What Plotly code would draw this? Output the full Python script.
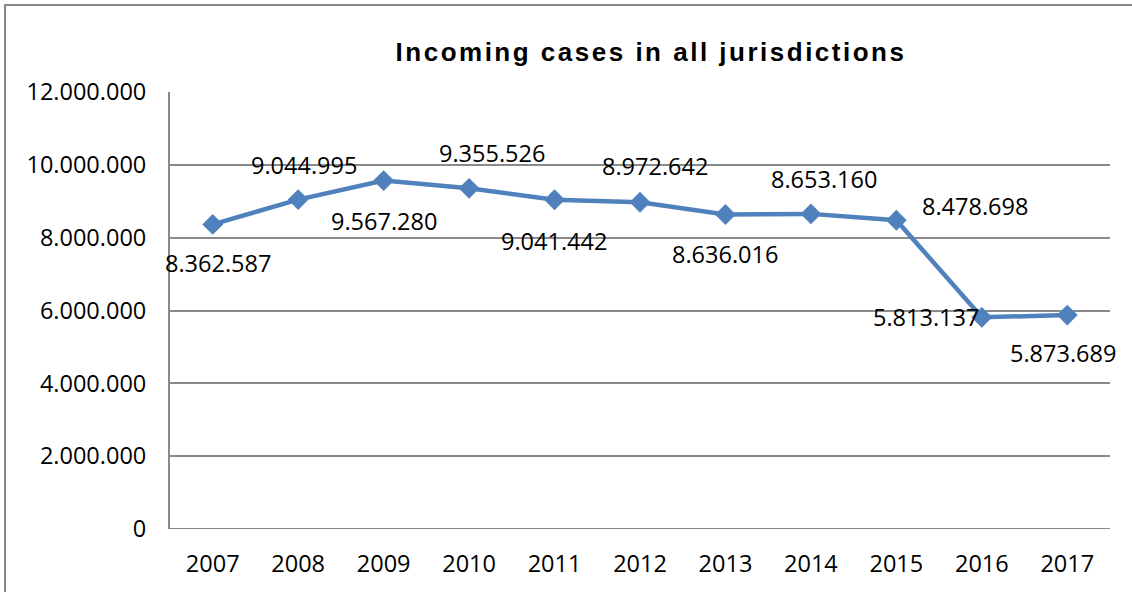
import plotly.graph_objects as go

years = ["2007", "2008", "2009", "2010", "2011", "2012", "2013", "2014", "2015", "2016", "2017"]
cases = [8362587, 9044995, 9567280, 9355526, 9041442, 8972642, 8636016, 8653160, 8478698, 5813137, 5873689]
label_dx = [5, 6, 0, 23, -1, 15, 0, 13, 79, -56, -4]
label_dy = [-39, 35, -40, 35, -41, 36, -39, 35, 14, 0, -38]

FONT = "Open Sans"
FS = 23.5
LINE_COLOR = "#4F81BD"
GRID = "#8a8a8a"

fig = go.Figure()
fig.add_trace(go.Scatter(
    x=years, y=cases, mode="lines+markers",
    line=dict(color=LINE_COLOR, width=4.5),
    marker=dict(symbol="diamond", size=16, color=LINE_COLOR),
    hoverinfo="x+y", showlegend=False,
))

for i, (v, dx, dy) in enumerate(zip(cases, label_dx, label_dy)):
    fig.add_annotation(
        x=i, y=v, xref="x", yref="y", text=f"{v:,}".replace(",", "."), showarrow=False,
        xshift=dx, yshift=dy, font=dict(family=FONT, size=FS, color="black"),
    )

fig.update_layout(
    width=1132, height=592,
    margin=dict(l=170, r=22, t=92, b=63),
    paper_bgcolor="white", plot_bgcolor="white",
    separators=",.",
    font=dict(family=FONT, size=FS, color="black"),
    title=dict(
        text='<b><span style="letter-spacing:2.5px">Incoming cases in all jurisdictions</span></b>',
        x=651 / 1132, xanchor="center", y=1 - 52 / 592, yanchor="middle",
        font=dict(family="Liberation Sans", size=26, color="black"),
    ),
    xaxis=dict(
        type="category", range=[-0.5, 10.5], showgrid=False, showline=False,
        zeroline=False, ticks="", ticklabelstandoff=18,
        tickfont=dict(family=FONT, size=FS, color="black"),
    ),
    yaxis=dict(
        range=[0, 12000000], dtick=2000000, tickformat=",d",
        showgrid=True, gridcolor=GRID, gridwidth=1.5,
        zeroline=False, showline=True, linecolor=GRID, linewidth=2,
        ticks="", ticklabelstandoff=17,
        tickfont=dict(family=FONT, size=FS, color="black"),
    ),
    shapes=[
        dict(type="line", xref="paper", yref="y", x0=0, x1=1, y0=0, y1=0,
             line=dict(color=GRID, width=2)),
        dict(type="rect", xref="paper", yref="paper",
             x0=(5 - 170) / 940, x1=(1145 - 170) / 940,
             y0=(529 - 610) / 437, y1=1 + (92 - 5) / 437,
             line=dict(color="#888888", width=2), fillcolor="rgba(0,0,0,0)",
             layer="below"),
    ],
)

fig.write_html("out.html", config={"displayModeBar": False},
               post_script="document.body.style.margin='0px';")
